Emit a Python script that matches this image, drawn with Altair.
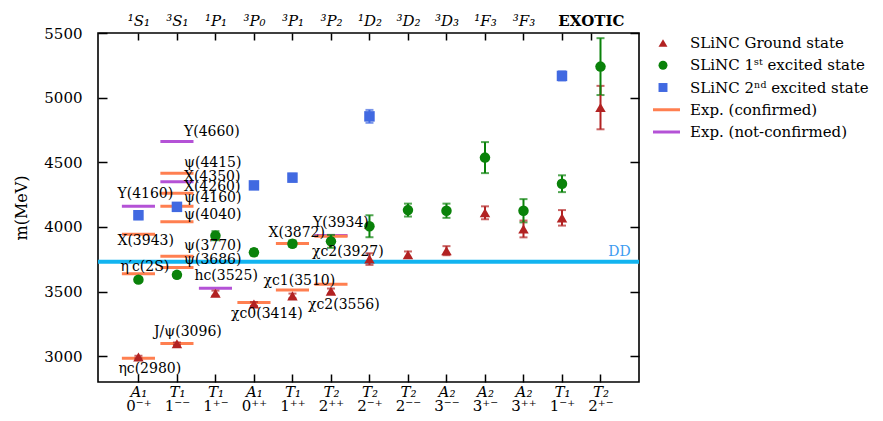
import json
import altair as alt
import pandas as pd

# ---------------- data ----------------
sym_labels = ["A₁", "T₁", "T₁", "A₁", "T₁", "T₂", "T₂", "T₂", "A₂", "A₂", "A₂", "T₁", "T₂"]
jpc_labels = ["0⁻⁺", "1⁻⁻", "1⁺⁻", "0⁺⁺", "1⁺⁺", "2⁺⁺", "2⁻⁺", "2⁻⁻", "3⁻⁻", "3⁺⁻", "3⁺⁺", "1⁻⁺", "2⁺⁻"]
top_labels = ["¹S₁", "³S₁", "¹P₁", "³P₀", "³P₁", "³P₂", "¹D₂", "³D₂", "³D₃", "¹F₃", "³F₃"]
exotic_label = "EXOTIC"
top_ticks = [0, 1, 2, 3, 4, 5, 6, 7, 8, 9, 10, 11, 11.75]

series_names = ["SLiNC Ground state", "SLiNC 1ˢᵗ excited state", "SLiNC 2ⁿᵈ excited state",
                "Exp. (confirmed)", "Exp. (not-confirmed)"]
series_colors = ["#B22222", "#0A820A", "#4169E1", "#FF7F50", "#B452D6"]
series_shapes = ["triangle-up", "circle", "square", "stroke", "stroke"]
series_kind = ["point", "point", "point", "line", "line"]

ground_idx = list(range(13))
ground_mass = [2993, 3096, 3487, 3404, 3466, 3503, 3751, 3785, 3816, 4109, 3984, 4070, 4923]
ground_err = [10, 10, 20, 15, 18, 20, 45, 25, 35, 50, 65, 60, 168]

first_idx = list(range(13))
first_mass = [3592, 3629, 3932, 3803, 3870, 3888, 4005, 4130, 4125, 4536, 4125, 4334, 5240]
first_err = [15, 20, 35, 25, 25, 50, 85, 50, 55, 120, 90, 65, 220]

second_idx = [0, 1, 3, 4, 6, 11]
second_mass = [4090, 4155, 4321, 4381, 4855, 5168]
second_err = [30, 30, 25, 30, 50, 35]

exp_names = ["ηc(2980)", "η′c(2S)", "X(3943)", "Y(4160)",
             "J/ψ(3096)", "ψ(3686)", "ψ(3770)", "ψ(4040)", "ψ(4160)", "X(4260)", "X(4350)", "ψ(4415)", "Y(4660)",
             "hc(3525)", "χc0(3414)", "χc1(3510)", "X(3872)", "χc2(3556)", "Y(3934)", "χc2(3927)"]
exp_idx = [0, 0, 0, 0, 1, 1, 1, 1, 1, 1, 1, 1, 1, 2, 3, 4, 4, 5, 5, 5]
exp_mass = [2984, 3638, 3943, 4160, 3097, 3686, 3773, 4040, 4160, 4260, 4350, 4415, 4660,
            3525, 3415, 3511, 3872, 3556, 3934, 3927]
exp_confirmed = [1, 1, 1, 0, 1, 1, 1, 1, 1, 1, 0, 1, 0, 0, 1, 1, 1, 1, 0, 1]
# label placement (pixels, relative to line centre)
exp_label_dx = [-20, -18, -21, -21, -23, 7, 7, 7, 7, 7, 7, 7, 7, -21, -23, -29, -24, -23, -18, -19]
exp_label_dy = [11, -7, 7, -12, -12, -7, -10, -7, -8, -6, -5, -10, -10, -12, 11, -9, -10, 21, -12, 16]

dd_mass = 3730
dd_label = "DD"

# ---------------- layout constants ----------------
X_DOMAIN = [-1.05, 13.0]
Y_DOMAIN = [2800, 5500]
W, H = 541, 349
UX = (X_DOMAIN[1] - X_DOMAIN[0]) / W
UY = (Y_DOMAIN[1] - Y_DOMAIN[0]) / H
HALF = 0.43
FONT = "DejaVu Serif"
LEG_SYM_X, LEG_LINE_X0, LEG_LINE_X1, LEG_TEXT_X = 565, 555, 582, 592
LEG_ROWS = [10, 99]

xs = alt.Scale(domain=X_DOMAIN, nice=False, zero=False)
ys = alt.Scale(domain=Y_DOMAIN, nice=False, zero=False)

# ---------------- tables ----------------
rows = []
for i, m, e in zip(ground_idx, ground_mass, ground_err):
    rows.append({"idx": i, "mass": m, "lo": m - e, "hi": m + e, "series": series_names[0]})
for i, m, e in zip(first_idx, first_mass, first_err):
    rows.append({"idx": i, "mass": m, "lo": m - e, "hi": m + e, "series": series_names[1]})
for i, m, e in zip(second_idx, second_mass, second_err):
    rows.append({"idx": i, "mass": m, "lo": m - e, "hi": m + e, "series": series_names[2]})
pts = pd.DataFrame(rows)

exp = pd.DataFrame({
    "name": exp_names, "idx": exp_idx, "mass": exp_mass,
    "series": [series_names[3] if c else series_names[4] for c in exp_confirmed],
    "dx": exp_label_dx, "dy": exp_label_dy,
})

dd = pd.DataFrame({"x0": [X_DOMAIN[0]], "x1": [X_DOMAIN[1]], "mass": [dd_mass], "text": [dd_label]})

leg = pd.DataFrame({"name": series_names, "color": series_colors,
                    "shape": series_shapes, "kind": series_kind})

# ---------------- axes ----------------
arr = lambda L: json.dumps(L, ensure_ascii=False)

axis_bottom1 = alt.Axis(
    orient="bottom", values=list(range(13)), labelExpr=f"{arr(sym_labels)}[datum.value]",
    offset=-8, tickSize=8, tickWidth=1.5, tickColor="black", domain=False, grid=False,
    labelPadding=2, labelFont=FONT, labelFontSize=15, labelFontStyle="italic",
    labelColor="black", title=None, labelFlush=False, labelOverlap=False)
axis_bottom2 = alt.Axis(
    orient="bottom", values=list(range(13)), labelExpr=f"{arr(jpc_labels)}[datum.value]",
    ticks=False, tickSize=0, domain=False, grid=False, labelPadding=16, labelFont=FONT,
    labelFontSize=15, labelColor="black", title=None, labelFlush=False, labelOverlap=False)
axis_top = alt.Axis(
    orient="top", values=top_ticks,
    labelExpr=f"datum.value > 11.5 ? '{exotic_label}' : (datum.value > 10.5 ? '' : {arr(top_labels)}[datum.value])",
    offset=-7, tickSize=7, tickWidth=1.5, tickColor="black", domain=False, grid=False,
    labelPadding=5, labelFont=FONT, labelFontSize=15, labelColor="black",
    labelFontStyle={"condition": {"test": "datum.value > 11.5", "value": "normal"}, "value": "italic"},
    labelFontWeight={"condition": {"test": "datum.value > 11.5", "value": "bold"}, "value": "normal"},
    title=None, labelFlush=False, labelOverlap=False)
axis_left = alt.Axis(
    orient="left", values=[3000, 3500, 4000, 4500, 5000, 5500], offset=-9, tickSize=9,
    tickWidth=1.5, tickColor="black", domain=False, grid=False, labelPadding=16,
    labelFont=FONT, labelFontSize=15, labelColor="black", format="d",
    title="m(MeV)", titleFont=FONT, titleFontSize=16, titleFontWeight="normal",
    titleColor="black", titlePadding=14)
axis_right = alt.Axis(
    orient="right", values=[3000, 3500, 4000, 4500, 5000, 5500], offset=-9, tickSize=9,
    tickWidth=1.5, tickColor="black", domain=False, grid=False, labels=False, title=None)

# ---------------- layers ----------------
color_scale = alt.Scale(domain=series_names, range=series_colors)
shape_scale = alt.Scale(domain=series_names, range=series_shapes)

exp_lines = alt.Chart(exp).transform_calculate(
    x0=f"datum.idx - {HALF}", x1=f"datum.idx + {HALF}"
).mark_rule(strokeWidth=3).encode(
    x=alt.X("x0:Q", scale=xs, axis=axis_bottom1),
    x2="x1:Q",
    y=alt.Y("mass:Q", scale=ys, axis=axis_left),
    color=alt.Color("series:N", scale=color_scale, legend=None),
)

exp_text = alt.Chart(exp).transform_calculate(
    lx=f"datum.idx + datum.dx * {UX}", ly=f"datum.mass - datum.dy * {UY}"
).mark_text(align="left", baseline="middle", font=FONT, fontSize=14, color="black").encode(
    x=alt.X("lx:Q", scale=xs, axis=axis_bottom2),
    y=alt.Y("ly:Q", scale=ys, axis=None),
    text="name:N",
)

dd_line = alt.Chart(dd).mark_rule(strokeWidth=4, color="#12B4F0").encode(
    x=alt.X("x0:Q", scale=xs, axis=None), x2="x1:Q",
    y=alt.Y("mass:Q", scale=ys, axis=None),
)
dd_text = alt.Chart(dd).transform_calculate(lx="12.2").mark_text(
    align="left", baseline="bottom", dy=-3, font=FONT, fontSize=14, color="#3C9BF0"
).encode(
    x=alt.X("lx:Q", scale=xs, axis=None),
    y=alt.Y("mass:Q", scale=ys, axis=None),
    text="text:N",
)

errbars = alt.Chart(pts).mark_errorbar(ticks=True, size=8, thickness=2).encode(
    x=alt.X("idx:Q", scale=xs, axis=None),
    y=alt.Y("lo:Q", scale=ys, axis=None, title=None),
    y2="hi:Q",
    color=alt.Color("series:N", scale=color_scale, legend=None),
)

points = alt.Chart(pts).mark_point(filled=True, opacity=1, size=110).encode(
    x=alt.X("idx:Q", scale=xs, axis=axis_top),
    y=alt.Y("mass:Q", scale=ys, axis=axis_right),
    color=alt.Color("series:N", scale=color_scale, legend=None),
    shape=alt.Shape("series:N", scale=shape_scale, legend=None),
)

# legend drawn as its own small layers
leg_y = alt.Y("name:N", scale=alt.Scale(type="point", domain=series_names, range=LEG_ROWS, padding=0),
              axis=None)
leg_pts = alt.Chart(leg).transform_filter("datum.kind == 'point'").mark_point(
    filled=True, opacity=1, size=80).encode(
    x=alt.value(LEG_SYM_X), y=leg_y,
    color=alt.Color("name:N", scale=color_scale, legend=None),
    shape=alt.Shape("name:N", scale=shape_scale, legend=None),
)
leg_lines = alt.Chart(leg).transform_filter("datum.kind == 'line'").mark_rule(strokeWidth=3).encode(
    x=alt.value(LEG_LINE_X0), x2=alt.value(LEG_LINE_X1), y=leg_y,
    color=alt.Color("name:N", scale=color_scale, legend=None),
)
leg_text = alt.Chart(leg).mark_text(align="left", baseline="middle", font=FONT, fontSize=15,
                                    color="black").encode(
    x=alt.value(LEG_TEXT_X), y=leg_y, text="name:N",
)

chart = alt.layer(
    exp_lines, dd_line, errbars, points, exp_text, dd_text, leg_lines, leg_pts, leg_text
).resolve_axis(x="independent", y="independent").resolve_scale(y="independent").properties(
    width=W, height=H,
    padding={"left": 90, "top": 25, "right": 236, "bottom": 31},
    autosize=alt.AutoSizeParams(type="none"),
    background="white",
).configure_view(stroke="black", strokeWidth=1.6, clip=False)

chart.save("out.html", embed_options={"renderer": "svg", "actions": False})
